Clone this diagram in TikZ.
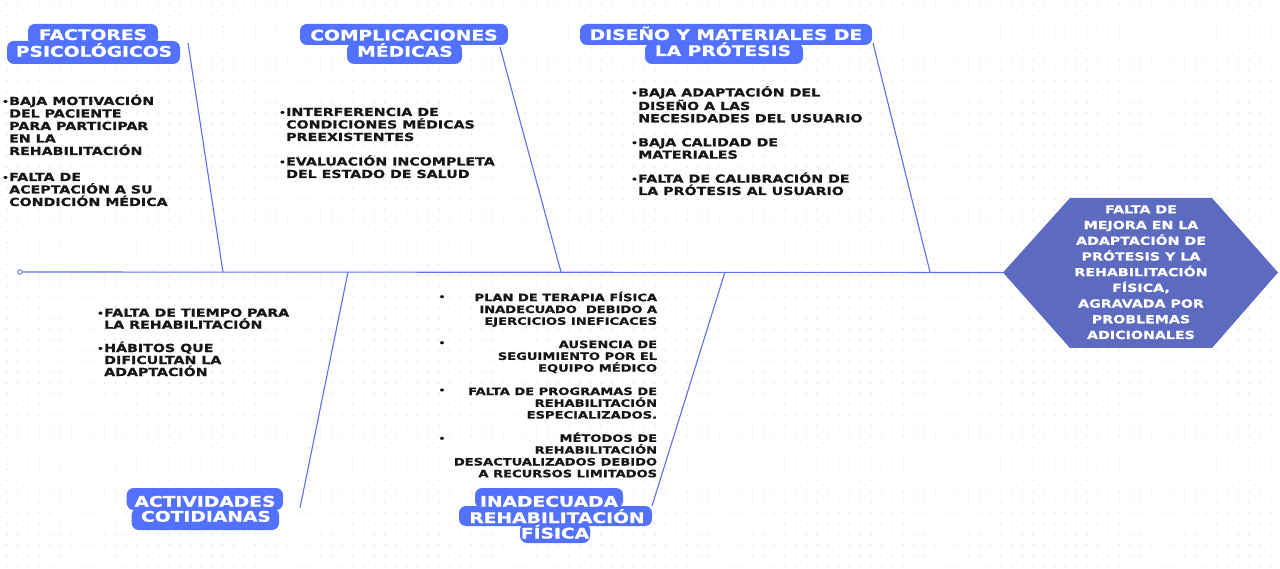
\documentclass[tikz,border=0pt]{standalone}
\usepackage{fontspec}
\newfontfamily\wfont[FakeStretch=1.28, BoldFeatures={FakeBold=0.9}]{DejaVu Sans}
\definecolor{lblblue}{HTML}{5271FF}
\definecolor{hexblue}{HTML}{5C6BC0}
\definecolor{bonecol}{HTML}{5873F2}
\definecolor{txtcol}{HTML}{161616}
\definecolor{dotcol}{HTML}{E4E4E4}
\newcommand\bpt{\makebox[7pt][l]{\raisebox{0.6pt}{\fontsize{8}{8}\selectfont •}}}
\newcommand\bsk{\hspace*{7pt}}
\tikzset{
  lblbox/.style={fill=lblblue, rounded corners=7pt},
  lbl/.style={text=white, font=\wfont\bfseries\fontsize{14.6}{16}\selectfont,
    inner sep=0pt, anchor=base},
  bul/.style={font=\wfont\bfseries\fontsize{11.1}{12.5}\selectfont, text=txtcol,
    inner sep=0pt, align=left, anchor=base west},
  bulsm/.style={font=\wfont\bfseries\fontsize{10.2}{11.8}\selectfont, text=txtcol,
    inner sep=0pt, align=right, anchor=base east},
  dotb/.style={font=\wfont\bfseries\fontsize{8}{8}\selectfont, text=txtcol, inner sep=0pt, anchor=base},
  bone/.style={draw=bonecol, line width=1.1pt},
  efftext/.style={font=\wfont\bfseries\fontsize{11.1}{15.7}\selectfont, text=white,
    inner sep=0pt, align=center}
}
\begin{document}
\begin{tikzpicture}[x=1pt,y=-1pt]
\useasboundingbox (0,0) rectangle (1280,569);
\fill[white] (0,0) rectangle (1280,569);
% dot grid
\foreach \i in {0,...,118} {
  \foreach \j in {0,...,52} {
    \fill[dotcol] ({7+10.8*\i},{5+10.8*\j}) circle (0.85pt);
  }
}
% coordinates
\coordinate (hl) at (1003,272.5);
\coordinate (b1) at (188,43);
\coordinate (j1) at (223,272);
\coordinate (b2) at (500,47);
\coordinate (j2) at (561,272);
\coordinate (b3) at (873,43);
\coordinate (j3) at (930,272);
\coordinate (j4) at (348,272);
\coordinate (b4) at (300,508);
\coordinate (j5) at (725,272);
\coordinate (b5) at (652,506);
% bones
\draw[bone] (b1) -- (j1);
\draw[bone] (b2) -- (j2);
\draw[bone] (b3) -- (j3);
\draw[bone] (j4) -- (b4);
\draw[bone] (j5) -- (b5);
% spine
\node[circle, draw=bonecol, fill=white, inner sep=0pt, minimum size=4.5pt, line width=0.9pt] (s0) at (20,272) {};
\draw[bone] (s0.east) -- (hl);
% effect hexagon
\fill[hexblue] (hl) -- (1070,198) -- (1212,198) -- (1278,272.5) -- (1212,348) -- (1070,348) -- cycle;
\node[efftext] (eff) at (1141,272.2) {FALTA DE\\MEJORA EN LA\\ADAPTACIÓN DE\\PRÓTESIS Y LA\\REHABILITACIÓN\\FÍSICA,\\AGRAVADA POR\\PROBLEMAS\\ADICIONALES};
% category label highlights
\fill[lblbox] (28,24) rectangle (158,45);
\fill[lblbox] (7,41) rectangle (180,64);
\fill[lblbox] (300,24) rectangle (508,45);
\fill[lblbox] (347,43) rectangle (462,64);
\fill[lblbox] (580,24) rectangle (872,45);
\fill[lblbox] (645,43) rectangle (803,64);
\fill[lblbox] (126.7,488) rectangle (283,510);
\fill[lblbox] (131.7,508) rectangle (279,530);
\fill[lblbox] (475,488) rectangle (623,508);
\fill[lblbox] (459,506) rectangle (652,526);
\fill[lblbox] (520,523) rectangle (590,543);
% category labels
\node[lbl] (f1) at (93,40) {FACTORES};
\node[lbl] (f2) at (94,56.7) {PSICOLÓGICOS};
\node[lbl] (c1) at (404,40.5) {COMPLICACIONES};
\node[lbl] (c2) at (405,56.7) {MÉDICAS};
\node[lbl] (d1) at (726,40) {DISEÑO Y MATERIALES DE};
\node[lbl] (d2) at (723,56) {LA PRÓTESIS};
\node[lbl] (a1) at (205,506.7) {ACTIVIDADES};
\node[lbl] (a2) at (206,521.7) {COTIDIANAS};
\node[lbl] (r1) at (549,506.7) {INADECUADA};
\node[lbl] (r2) at (557,523) {REHABILITACIÓN};
\node[lbl] (r3) at (555,538.5) {FÍSICA};
% cause lists (anchor = baseline of last line)
\node[bul] (g1) at (2,206) {\bpt BAJA MOTIVACIÓN\\\bsk DEL PACIENTE\\\bsk PARA PARTICIPAR\\\bsk EN LA\\\bsk REHABILITACIÓN\\[13.5pt]\bpt FALTA DE\\\bsk ACEPTACIÓN A SU\\\bsk CONDICIÓN MÉDICA};
\node[bul] (g2) at (279,178) {\bpt INTERFERENCIA DE\\\bsk CONDICIONES MÉDICAS\\\bsk PREEXISTENTES\\[12pt]\bpt EVALUACIÓN INCOMPLETA\\\bsk DEL ESTADO DE SALUD};
\node[bul, font=\wfont\bfseries\fontsize{11.1}{12.3}\selectfont] (g3) at (631,195) {\bpt BAJA ADAPTACIÓN DEL\\\bsk DISEÑO A LAS\\\bsk NECESIDADES DEL USUARIO\\[11.75pt]\bpt BAJA CALIDAD DE\\\bsk MATERIALES\\[11.75pt]\bpt FALTA DE CALIBRACIÓN DE\\\bsk LA PRÓTESIS AL USUARIO};
\node[bul, font=\wfont\bfseries\fontsize{11.1}{12}\selectfont] (g4) at (97,376) {\bpt FALTA DE TIEMPO PARA\\\bsk LA REHABILITACIÓN\\[11.3pt]\bpt HÁBITOS QUE\\\bsk DIFICULTAN LA\\\bsk ADAPTACIÓN};
\node[bulsm] (g5) at (657.3,477.3) {PLAN DE TERAPIA FÍSICA\\INADECUADO\ \ DEBIDO A\\EJERCICIOS INEFICACES\\[11.5pt]AUSENCIA DE\\SEGUIMIENTO POR EL\\EQUIPO MÉDICO\\[11.5pt]FALTA DE PROGRAMAS DE\\REHABILITACIÓN\\ESPECIALIZADOS.\\[11.5pt]MÉTODOS DE\\REHABILITACIÓN\\DESACTUALIZADOS DEBIDO\\A RECURSOS LIMITADOS};
\node[dotb] (p1) at (442,299.7) {•};
\node[dotb] (p2) at (442,345.7) {•};
\node[dotb] (p3) at (442,393) {•};
\node[dotb] (p4) at (442,441.3) {•};
\end{tikzpicture}
\end{document}
